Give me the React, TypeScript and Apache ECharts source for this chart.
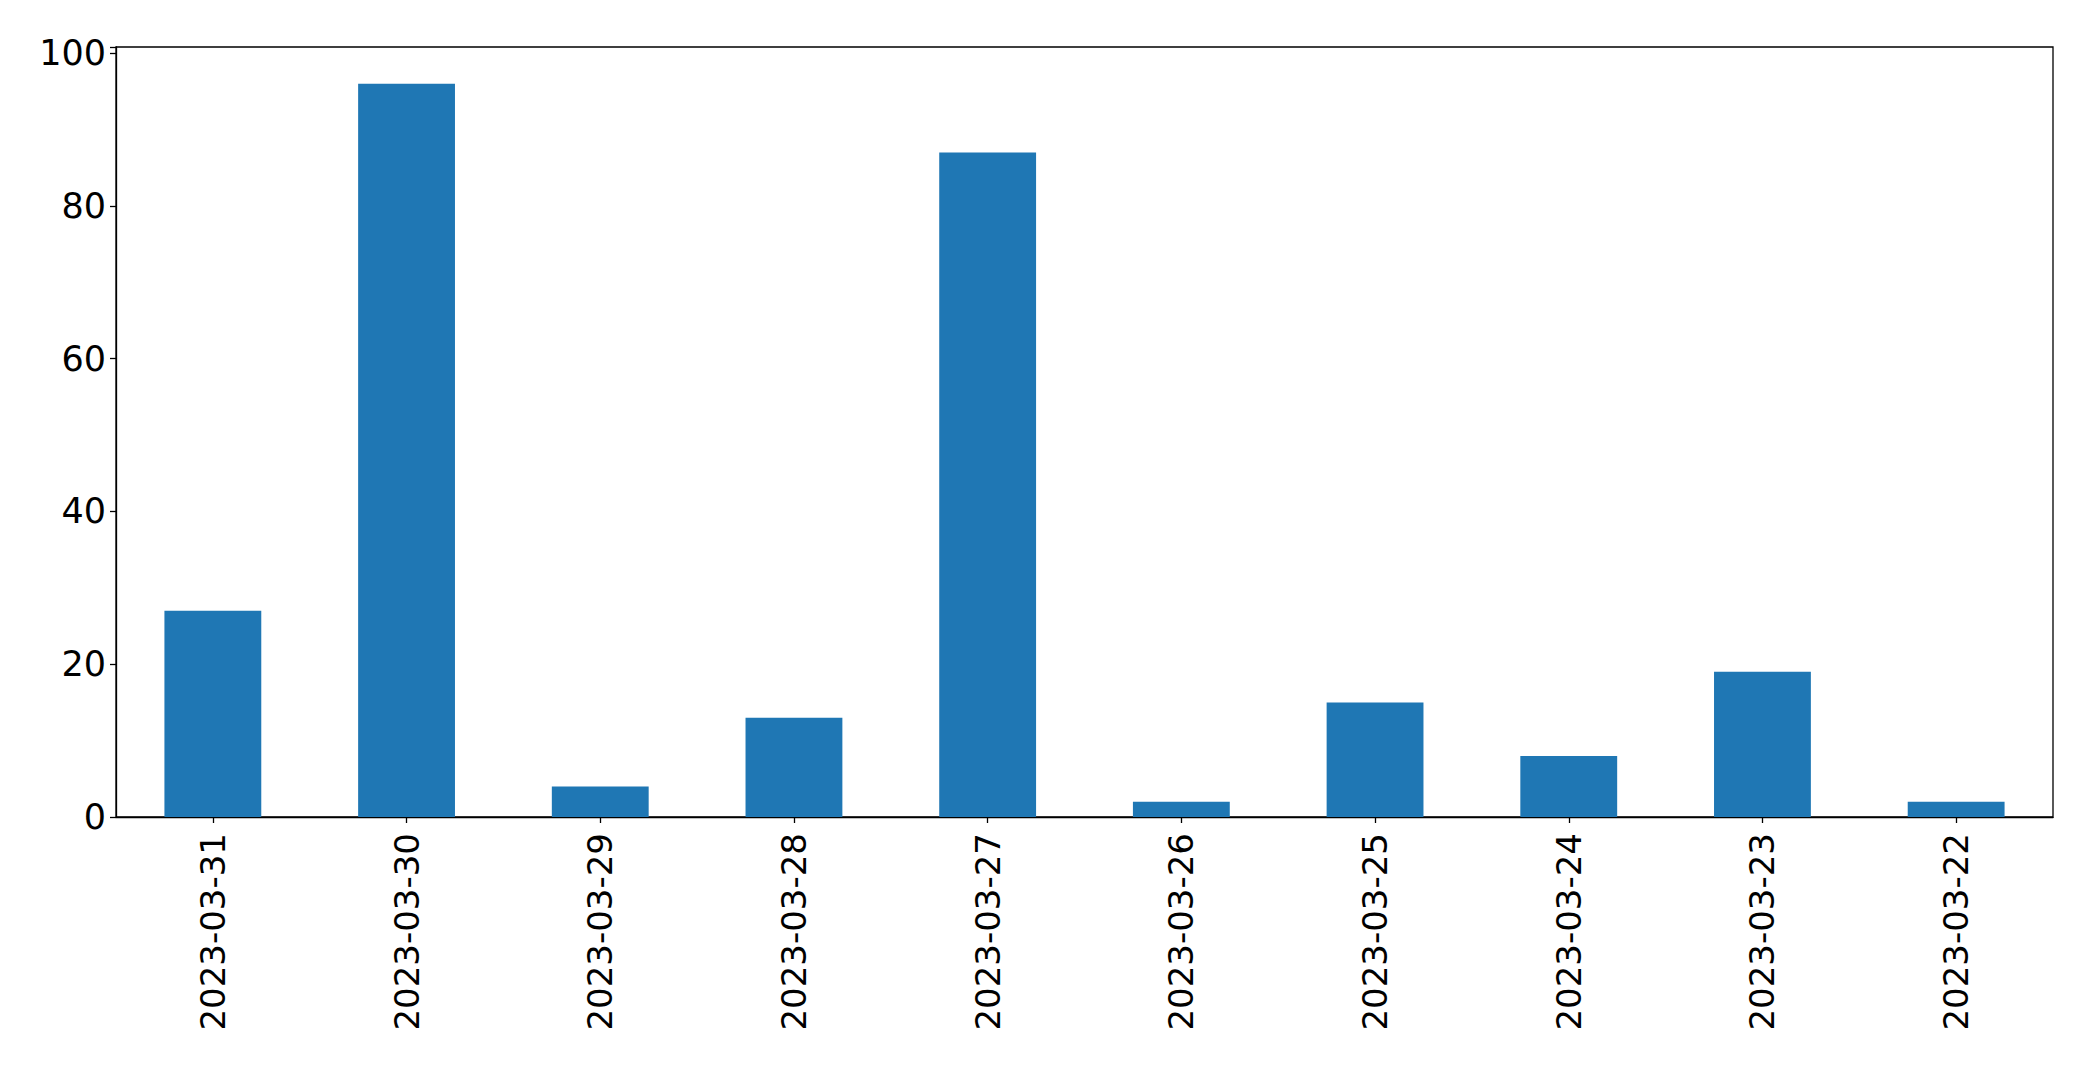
import React, { useEffect, useRef } from "react";
import * as echarts from "echarts";

const categories = [
  "2023-03-31",
  "2023-03-30",
  "2023-03-29",
  "2023-03-28",
  "2023-03-27",
  "2023-03-26",
  "2023-03-25",
  "2023-03-24",
  "2023-03-23",
  "2023-03-22",
];
const values = [27, 96, 4, 13, 87, 2, 15, 8, 19, 2];
const yTicks = [0, 20, 40, 60, 80, 100];

export default function App() {
  const ref = useRef<HTMLDivElement>(null);
  useEffect(() => {
    if (!ref.current) return;
    const chart = echarts.init(ref.current, undefined, { renderer: "svg" });
    const font = "DejaVu Sans";
    chart.setOption({
      animation: false,
      backgroundColor: "#ffffff",
      grid: {
        left: 116,
        top: 47,
        right: 40,
        bottom: 252,
        show: true,
        borderColor: "#000000",
        borderWidth: 1.3,
        backgroundColor: "transparent",
      },
      xAxis: {
        type: "category",
        data: categories,
        axisLine: { show: true, lineStyle: { color: "#000", width: 1.3 } },
        axisTick: { show: true, alignWithLabel: true, length: 6, lineStyle: { color: "#000", width: 1.3 } },
        axisLabel: {
          rotate: 90,
          margin: 16,
          color: "#000",
          fontFamily: font,
          fontSize: 34,
        },
        splitLine: { show: false },
      },
      yAxis: {
        type: "value",
        min: 0,
        max: 100.8,
        interval: 20,
        axisLine: { show: true, lineStyle: { color: "#000", width: 1.3 } },
        axisTick: { show: true, length: 6, lineStyle: { color: "#000", width: 1.3 } },
        axisLabel: {
          margin: 10,
          color: "#000",
          fontFamily: font,
          fontSize: 35,
          formatter: (v: number) => (yTicks.includes(v) ? String(v) : ""),
        },
        splitLine: { show: false },
      },
      series: [
        {
          type: "bar",
          data: values,
          barWidth: "50%",
          itemStyle: { color: "#1f77b4" },
        },
      ],
    });
    return () => chart.dispose();
  }, []);
  return (
    <div
      ref={ref}
      style={{ position: "fixed", left: 0, top: 0, width: 2093, height: 1069, background: "#fff" }}
    />
  );
}
